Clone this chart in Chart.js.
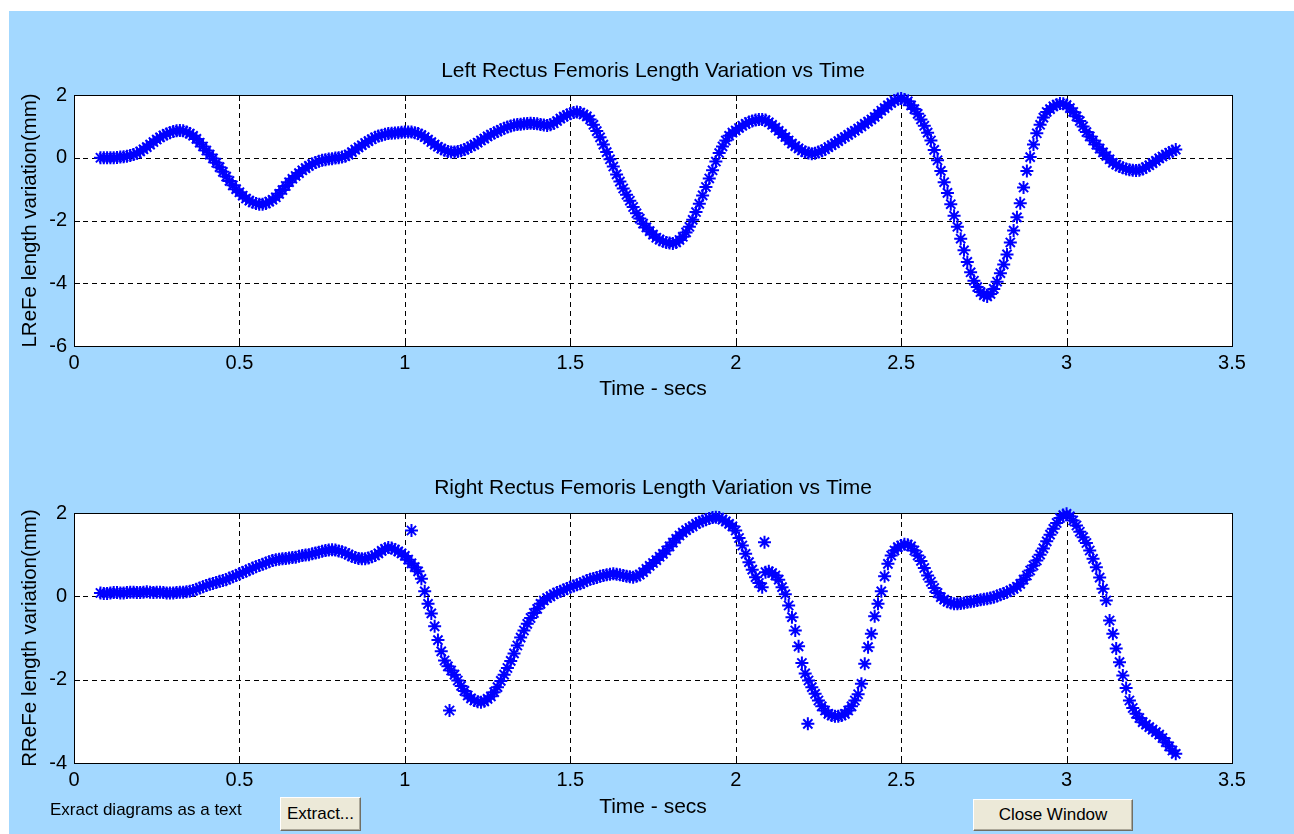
<!DOCTYPE html>
<html lang="en">
<head>
<meta charset="UTF-8">
<title>Rectus Femoris Length Variation</title>
<script src="https://cdn.jsdelivr.net/npm/chart.js"></script>
<style>
  body { margin:0; width:1294px; height:834px; background:#fff; position:relative; overflow:hidden;
         font-family:"Liberation Sans", Arial, sans-serif; }
  #fundo { position:absolute; left:9px; top:11px; right:0; bottom:0; background:#a3d8ff; }
  canvas { position:absolute; left:0; }
  #grafico1 { top:0; }
  #grafico2 { top:430px; }
  .texto { position:absolute; left:50px; top:800px; font-size:17px; color:#000; }
  .botao { position:absolute; font-family:"Liberation Sans", Arial, sans-serif; font-size:17px; color:#000;
           background:#ece9d8; border:1px solid; border-color:#fff #716f64 #716f64 #fff;
           box-shadow: inset -1px -1px 0 #aca899; padding:0; }
  #extrair { left:280px; top:797px; width:81px; height:34px; }
  #fechar { left:973px; top:799px; width:160px; height:32px; }
</style>
</head>
<body>
<div id="fundo"></div>
<canvas id="grafico1" width="1294" height="420"></canvas>
<canvas id="grafico2" width="1294" height="404"></canvas>
<div class="texto">Exract diagrams as a text</div>
<button class="botao" id="extrair">Extract...</button>
<button class="botao" id="fechar">Close Window</button>

<script>
// sample clock: first frame at 0.08 s, one sample every 0.01 s
const inicio = 0.08
const passo = 0.01

const ticksX = [0, 0.5, 1, 1.5, 2, 2.5, 3, 3.5]
const ticksYEsq = [-6, -4, -2, 0, 2]
const ticksYDir = [-4, -2, 0, 2]

// Left rectus femoris (mm)
const ladoEsq = [
 0.00, 0.00,
 0.00, 0.00, 0.00, 0.01, 0.02, 0.03, 0.05, 0.07, 0.10, 0.14,
 0.20, 0.27, 0.34, 0.42, 0.50, 0.58, 0.65, 0.71, 0.76, 0.80,
 0.84, 0.86, 0.87, 0.86, 0.82, 0.77, 0.70, 0.60, 0.48, 0.36,
 0.23, 0.10, -0.02, -0.16, -0.30, -0.45, -0.60, -0.74, -0.88, -1.00,
 -1.10, -1.21, -1.30, -1.37, -1.42, -1.46, -1.48, -1.48, -1.46, -1.40,
 -1.34, -1.26, -1.15, -1.03, -0.90, -0.78, -0.67, -0.58, -0.49, -0.40,
 -0.33, -0.26, -0.20, -0.15, -0.11, -0.08, -0.06, -0.04, -0.03, -0.01,
 0.00, 0.02, 0.05, 0.10, 0.18, 0.26, 0.33, 0.40, 0.47, 0.53,
 0.59, 0.65, 0.69, 0.72, 0.75, 0.77, 0.78, 0.79, 0.80, 0.81,
 0.82, 0.82, 0.82, 0.80, 0.77, 0.72, 0.66, 0.58, 0.50, 0.42,
 0.35, 0.29, 0.24, 0.20, 0.18, 0.18, 0.20, 0.22, 0.26, 0.31,
 0.36, 0.42, 0.48, 0.55, 0.61, 0.68, 0.74, 0.79, 0.84, 0.89,
 0.94, 0.98, 1.01, 1.04, 1.06, 1.07, 1.08, 1.09, 1.10, 1.09,
 1.08, 1.06, 1.04, 1.03, 1.05, 1.10, 1.17, 1.25, 1.31, 1.36,
 1.41, 1.44, 1.46, 1.44, 1.38, 1.32, 1.22, 1.05, 0.85, 0.65,
 0.42, 0.18, -0.05, -0.28, -0.53, -0.76, -0.98, -1.18, -1.37, -1.57,
 -1.77, -1.94, -2.10, -2.22, -2.34, -2.45, -2.55, -2.61, -2.66, -2.70,
 -2.72, -2.73, -2.70, -2.62, -2.52, -2.38, -2.20, -1.98, -1.73, -1.47,
 -1.20, -0.93, -0.66, -0.40, -0.12, 0.15, 0.36, 0.55, 0.70, 0.80,
 0.87, 0.95, 1.02, 1.08, 1.14, 1.17, 1.20, 1.22, 1.22, 1.20,
 1.13, 1.05, 0.96, 0.86, 0.76, 0.66, 0.55, 0.45, 0.37, 0.30,
 0.23, 0.18, 0.15, 0.13, 0.14, 0.18, 0.22, 0.27, 0.34, 0.40,
 0.46, 0.53, 0.60, 0.66, 0.73, 0.80, 0.86, 0.93, 1.00, 1.08,
 1.15, 1.22, 1.30, 1.40, 1.50, 1.58, 1.67, 1.75, 1.82, 1.87,
 1.89, 1.86, 1.80, 1.67, 1.55, 1.40, 1.22, 1.02, 0.80, 0.55,
 0.25, -0.08, -0.42, -0.78, -1.12, -1.48, -1.85, -2.20, -2.58, -2.95,
 -3.32, -3.65, -3.92, -4.12, -4.28, -4.38, -4.42, -4.34, -4.18, -3.95,
 -3.68, -3.40, -3.08, -2.70, -2.32, -1.90, -1.45, -0.95, -0.42, 0.02,
 0.42, 0.78, 1.05, 1.28, 1.46, 1.55, 1.64, 1.69, 1.73, 1.72,
 1.68, 1.58, 1.46, 1.32, 1.17, 1.00, 0.82, 0.68, 0.55, 0.42,
 0.29, 0.17, 0.06, -0.05, -0.16, -0.22, -0.28, -0.32, -0.36, -0.38,
 -0.40, -0.41, -0.40, -0.36, -0.30, -0.24, -0.17, -0.10, -0.02, 0.04,
 0.10, 0.16, 0.21, 0.26
]

// Right rectus femoris (mm)
const ladoDir = [
 0.08, 0.07,
 0.07, 0.08, 0.09, 0.09, 0.08, 0.08, 0.09, 0.10, 0.10, 0.09,
 0.09, 0.10, 0.11, 0.10, 0.09, 0.10, 0.10, 0.09, 0.08, 0.08,
 0.08, 0.09, 0.10, 0.10, 0.11, 0.12, 0.14, 0.17, 0.20, 0.23,
 0.26, 0.29, 0.31, 0.33, 0.36, 0.38, 0.40, 0.44, 0.47, 0.50,
 0.54, 0.57, 0.61, 0.64, 0.68, 0.71, 0.74, 0.77, 0.80, 0.83,
 0.86, 0.88, 0.89, 0.90, 0.91, 0.92, 0.93, 0.94, 0.96, 0.98,
 0.99, 1.00, 1.02, 1.04, 1.06, 1.08, 1.10, 1.11, 1.12, 1.11,
 1.09, 1.07, 1.04, 1.00, 0.96, 0.93, 0.91, 0.90, 0.90, 0.92,
 0.95, 0.98, 1.03, 1.09, 1.14, 1.17, 1.16, 1.12, 1.08, 1.03,
 0.97, 0.88, 0.79, 0.70, 0.60, 0.42, 0.12, -0.18, -0.41, -0.72,
 -1.05, -1.32, -1.54, -1.68, -1.78, -1.88, -2.02, -2.15, -2.27, -2.38,
 -2.45, -2.50, -2.53, -2.54, -2.52, -2.46, -2.40, -2.30, -2.18, -2.03,
 -1.88, -1.72, -1.55, -1.37, -1.18, -0.99, -0.82, -0.66, -0.52, -0.40,
 -0.30, -0.18, -0.10, -0.04, 0.00, 0.05, 0.09, 0.12, 0.15, 0.19,
 0.22, 0.25, 0.28, 0.30, 0.34, 0.38, 0.41, 0.43, 0.45, 0.48,
 0.50, 0.52, 0.53, 0.54, 0.53, 0.52, 0.50, 0.48, 0.47, 0.46,
 0.48, 0.52, 0.58, 0.66, 0.73, 0.80, 0.87, 0.95, 1.02, 1.10,
 1.20, 1.29, 1.38, 1.46, 1.53, 1.59, 1.64, 1.68, 1.74, 1.78,
 1.81, 1.84, 1.87, 1.89, 1.90, 1.89, 1.84, 1.80, 1.74, 1.68,
 1.58, 1.40, 1.22, 1.02, 0.82, 0.64, 0.46, 0.32, 0.22, 0.58,
 0.60, 0.56, 0.50, 0.40, 0.22, 0.05, -0.22, -0.50, -0.82, -1.20,
 -1.60, -1.85, -2.02, -2.18, -2.34, -2.50, -2.64, -2.74, -2.82, -2.86,
 -2.88, -2.88, -2.86, -2.82, -2.74, -2.64, -2.50, -2.35, -2.10, -1.62,
 -1.22, -0.90, -0.48, -0.18, 0.12, 0.48, 0.78, 0.98, 1.10, 1.18,
 1.22, 1.25, 1.24, 1.20, 1.10, 0.98, 0.85, 0.68, 0.50, 0.35,
 0.20, 0.08, -0.02, -0.08, -0.13, -0.16, -0.18, -0.18, -0.17, -0.16,
 -0.14, -0.13, -0.12, -0.10, -0.08, -0.07, -0.06, -0.04, -0.02, 0.01,
 0.04, 0.07, 0.10, 0.14, 0.18, 0.23, 0.30, 0.40, 0.50, 0.62,
 0.74, 0.86, 1.00, 1.15, 1.32, 1.48, 1.62, 1.76, 1.88, 1.95,
 1.98, 1.92, 1.82, 1.70, 1.55, 1.42, 1.28, 1.10, 0.90, 0.70,
 0.45, 0.18, -0.10, -0.58, -0.90, -1.25, -1.58, -1.90, -2.20, -2.50,
 -2.68, -2.82, -2.92, -3.02, -3.08, -3.14, -3.20, -3.26, -3.32, -3.40,
 -3.50, -3.60, -3.70, -3.78
]

// stray samples off the right curve
const soltosT = [1.02, 1.135, 2.087, 2.218]
const soltosV = [1.58, -2.74, 1.30, -3.06]

Chart.defaults.font.family = '"Liberation Sans", Arial, sans-serif'
Chart.defaults.font.size = 20
Chart.defaults.color = '#000'

const pontos = vals => vals.map((v, i) => ({ x: +(inicio + i * passo).toFixed(2), y: v }))

// white plot box, dashed grid, black frame, inner ticks and the centred title
const moldura = {
  id: 'moldura',
  beforeDraw(chart, args, opts) {
    const { ctx, chartArea: a, scales } = chart
    ctx.save()
    ctx.fillStyle = '#fff'
    ctx.fillRect(a.left, a.top, a.width, a.height)

    ctx.strokeStyle = '#000'
    ctx.lineWidth = 1
    ctx.setLineDash([5, 4])
    ctx.beginPath()
    scales.x.ticks.forEach(t => {
      const px = Math.round(scales.x.getPixelForValue(t.value)) + 0.5
      if (px <= a.left + 1 || px >= a.right - 1) return
      ctx.moveTo(px, a.top); ctx.lineTo(px, a.bottom)
    })
    scales.y.ticks.forEach(t => {
      const py = Math.round(scales.y.getPixelForValue(t.value)) + 0.5
      if (py <= a.top + 1 || py >= a.bottom - 1) return
      ctx.moveTo(a.left, py); ctx.lineTo(a.right, py)
    })
    ctx.stroke()
    ctx.setLineDash([])

    ctx.beginPath()
    scales.x.ticks.forEach(t => {
      const px = Math.round(scales.x.getPixelForValue(t.value)) + 0.5
      ctx.moveTo(px, a.bottom); ctx.lineTo(px, a.bottom - 6)
      ctx.moveTo(px, a.top); ctx.lineTo(px, a.top + 6)
    })
    scales.y.ticks.forEach(t => {
      const py = Math.round(scales.y.getPixelForValue(t.value)) + 0.5
      ctx.moveTo(a.left, py); ctx.lineTo(a.left + 6, py)
      ctx.moveTo(a.right, py); ctx.lineTo(a.right - 6, py)
    })
    ctx.stroke()
    ctx.strokeRect(Math.round(a.left) + 0.5, Math.round(a.top) + 0.5, Math.round(a.width), Math.round(a.height))

    ctx.fillStyle = '#000'
    ctx.font = '21px "Liberation Sans", Arial, sans-serif'
    ctx.textAlign = 'center'
    ctx.textBaseline = 'middle'
    ctx.fillText(opts.texto, (a.left + a.right) / 2, opts.y)
    ctx.restore()
  }
}

const estiloPonto = {
  showLine: false,
  pointStyle: 'star',
  pointRadius: 6.5,
  pointBorderWidth: 2,
  borderColor: '#0000ff',
  backgroundColor: '#0000ff',
  clip: false
}

function montarGrafico(id, cfg) {
  return new Chart(document.getElementById(id), {
    type: 'scatter',
    data: { datasets: cfg.series.map(s => Object.assign({ data: s }, estiloPonto)) },
    options: {
      responsive: false,
      animation: false,
      layout: { padding: { left: 0, right: 62, top: cfg.topo, bottom: cfg.baixo } },
      plugins: {
        legend: { display: false },
        tooltip: { enabled: false },
        moldura: { texto: cfg.titulo, y: cfg.tituloY }
      },
      scales: {
        x: {
          type: 'linear',
          min: 0, max: 3.5,
          afterBuildTicks: s => { s.ticks = ticksX.map(v => ({ value: v })) },
          afterFit: s => { s.height = cfg.alturaX },
          ticks: { padding: 5, callback: v => String(v), maxRotation: 0, autoSkip: false },
          grid: { display: false, drawTicks: false },
          border: { display: false },
          title: { display: true, text: 'Time - secs', padding: 0, font: { size: 21 } }
        },
        y: {
          min: cfg.yMin, max: 2,
          afterBuildTicks: s => { s.ticks = cfg.ticksY.map(v => ({ value: v })) },
          afterFit: s => { s.width = 74 },
          ticks: { padding: 7, callback: v => String(v), autoSkip: false },
          grid: { display: false, drawTicks: false },
          border: { display: false },
          title: { display: true, text: cfg.rotuloY, padding: { top: 18, bottom: 0 }, font: { size: 20.5 } }
        }
      }
    },
    plugins: [moldura]
  })
}

const grafico1 = montarGrafico('grafico1', {
  titulo: 'Left Rectus Femoris Length Variation vs Time',
  rotuloY: 'LReFe length variation(mm)',
  series: [pontos(ladoEsq)],
  yMin: -6, ticksY: ticksYEsq,
  topo: 95, tituloY: 71,
  alturaX: 56, baixo: 18
})

const grafico2 = montarGrafico('grafico2', {
  titulo: 'Right Rectus Femoris Length Variation vs Time',
  rotuloY: 'RReFe length variation(mm)',
  series: [pontos(ladoDir), soltosT.map((t, i) => ({ x: t, y: soltosV[i] }))],
  yMin: -4, ticksY: ticksYDir,
  topo: 83, tituloY: 58,
  alturaX: 57, baixo: 14
})
</script>
</body>
</html>
